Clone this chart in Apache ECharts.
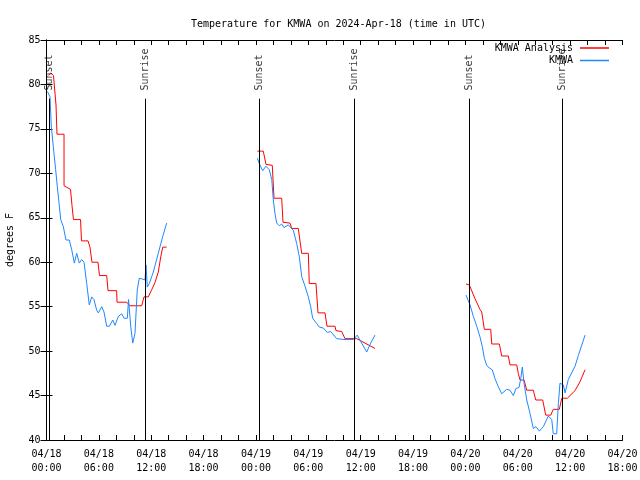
<!DOCTYPE html>
<html>
<head>
<meta charset="utf-8">
<script src="https://cdn.jsdelivr.net/npm/echarts@6/dist/echarts.min.js"></script>
<style>html,body{margin:0;padding:0;background:#fff}#c{width:640px;height:480px}</style>
</head>
<body>
<div id="c"></div>
<script>
// hours since 2024-04-18 00:00 UTC, temperature in degrees F
const analysisSeg1 = [[0.2,81.0],[0.5,81.3],[0.8,81.0],[0.97,80.8],[1.09,77.7],[1.20,74.4],[2.01,74.4],[2.01,68.6],[2.23,68.5],[2.75,68.2],[2.92,66.4],[3.09,64.8],[3.90,64.8],[4.01,62.4],[4.76,62.4],[4.98,61.7],[5.21,60.0],[5.90,60.0],[6.07,58.5],[6.90,58.5],[7.05,56.8],[8.04,56.8],[8.08,55.5],[9.19,55.5],[9.57,55.1],[10.91,55.1],[11.17,56.1],[11.67,56.1],[12.05,56.9],[12.43,57.7],[12.81,58.9],[13.09,60.6],[13.32,61.7],[13.77,61.7]];
const analysisSeg2 = [[24.16,72.5],[24.84,72.5],[25.15,71.0],[25.87,70.9],[26.07,67.2],[26.95,67.2],[27.10,64.5],[27.90,64.4],[28.10,63.8],[28.85,63.8],[29.24,61.0],[30.00,61.0],[30.11,57.6],[30.88,57.6],[31.11,54.3],[31.91,54.3],[32.14,52.8],[33.06,52.8],[33.17,52.3],[33.83,52.2],[34.20,51.4],[35.55,51.4],[37.64,50.3]];
const analysisSeg3 = [[48.07,57.55],[48.45,57.44],[49.10,55.9],[49.67,54.7],[49.87,54.4],[50.17,52.45],[50.90,52.45],[51.02,50.8],[51.89,50.8],[52.16,49.45],[52.92,49.45],[53.11,48.45],[53.88,48.45],[54.06,47.5],[54.26,46.75],[54.72,46.75],[55.03,45.6],[55.78,45.6],[56.06,44.5],[56.86,44.5],[57.20,42.8],[57.78,42.8],[58.07,43.45],[58.76,43.45],[59.04,44.7],[59.68,44.7],[60.56,45.55],[61.13,46.55],[61.71,47.9]];
const obsSeg1 = [[0.11,79.2],[0.40,78.6],[0.55,75.3],[0.78,73.0],[1.05,70.4],[1.24,68.5],[1.43,66.7],[1.63,64.8],[1.93,64.0],[2.23,62.5],[2.61,62.5],[2.89,61.4],[3.19,59.9],[3.46,61.0],[3.76,59.9],[4.03,60.3],[4.30,60.0],[4.61,57.6],[4.90,55.2],[5.18,56.1],[5.44,55.8],[5.75,54.6],[5.94,54.3],[6.33,55.0],[6.59,54.4],[6.90,52.8],[7.20,52.8],[7.59,53.5],[7.85,52.9],[8.23,53.9],[8.62,54.2],[8.88,53.7],[9.26,53.7],[9.40,55.8],[9.65,52.8],[9.88,50.9],[10.14,52.0],[10.40,56.9],[10.63,58.2],[11.02,58.1],[11.29,58.0],[11.40,59.7],[11.55,57.2],[11.78,57.6],[12.24,58.9],[12.81,61.0],[13.32,62.9],[13.77,64.4]];
const obsSeg2 = [[24.16,71.7],[24.38,71.1],[24.77,70.3],[25.15,70.8],[25.53,70.4],[25.81,69.3],[25.99,67.0],[26.18,65.5],[26.38,64.4],[26.68,64.1],[26.95,64.3],[27.21,63.9],[27.71,64.2],[27.90,64.4],[28.28,63.6],[28.67,62.1],[28.97,60.6],[29.24,58.4],[29.62,57.3],[30.00,56.1],[30.27,55.0],[30.50,53.7],[30.96,53.1],[31.26,52.7],[31.72,52.6],[32.18,52.1],[32.57,52.2],[33.25,51.4],[34.20,51.3],[35.16,51.3],[35.61,51.8],[36.00,51.1],[36.69,49.9],[37.15,50.9],[37.64,51.8]];
const obsSeg3 = [[48.07,56.3],[48.53,55.2],[48.91,53.9],[49.30,52.8],[49.67,51.6],[49.94,50.5],[50.17,49.2],[50.44,48.4],[50.74,48.1],[51.08,47.9],[51.39,46.9],[51.77,46.0],[52.16,45.2],[52.73,45.7],[53.11,45.6],[53.49,45.0],[53.80,45.8],[54.14,45.9],[54.34,46.9],[54.52,48.2],[54.72,46.4],[55.03,44.5],[55.40,43.0],[55.78,41.3],[56.09,41.5],[56.47,41.0],[56.93,41.5],[57.50,42.7],[57.89,42.3],[58.07,40.7],[58.46,40.7],[58.65,44.1],[58.84,46.4],[59.22,46.2],[59.42,45.3],[59.79,46.8],[60.56,48.3],[60.94,49.5],[61.71,51.8]];
const sunsetHours = [0.37, 24.39, 48.45];
const sunriseHours = [11.35, 35.28, 59.12];
const yTicks = [40, 45, 50, 55, 60, 65, 70, 75, 80, 85];

const FONT = 'DejaVu Sans Mono';
const RED = '#ff0000', BLUE = '#1e88ff';
const lineTop = 78.4, labelBase = 79.2;

function xLabel(v) {
  if (Math.round(v) % 6 !== 0) return '';
  const day = 18 + Math.floor(v / 24);
  const hr = v % 24;
  return '04/' + day + '\n' + (hr < 10 ? '0' : '') + hr + ':00';
}

const sunLines = [];
const sunLabels = [];
sunsetHours.forEach(h => {
  sunLines.push([{coord: [h, 40]}, {coord: [h, lineTop]}]);
  sunLabels.push({value: [h, labelBase], name: 'Sunset'});
});
sunriseHours.forEach(h => {
  sunLines.push([{coord: [h, 40]}, {coord: [h, lineTop]}]);
  sunLabels.push({value: [h, labelBase], name: 'Sunrise'});
});

function lineSeries(name, color, data) {
  return {name, type: 'line', data, showSymbol: false, symbol: 'none',
    lineStyle: {color, width: 1}, itemStyle: {color}, z: 3};
}

const chart = echarts.init(document.getElementById('c'));
chart.setOption({
  animation: false,
  backgroundColor: '#fff',
  title: {
    text: 'Temperature for KMWA on 2024-Apr-18 (time in UTC)',
    left: 186, top: 14,
    textStyle: {fontFamily: FONT, fontSize: 10, fontWeight: 'normal', color: '#000'}
  },
  legend: [
    {data: ['KMWA Analysis'], right: 31, top: 43, padding: 0, align: 'right', icon: 'rect',
     itemWidth: 29, itemHeight: 1.5, selectedMode: false,
     textStyle: {fontFamily: FONT, fontSize: 10, color: '#000', padding: [0, 2, 0, 0]}},
    {data: ['KMWA'], right: 31, top: 55.5, padding: 0, align: 'right', icon: 'rect',
     itemWidth: 29, itemHeight: 1.5, selectedMode: false,
     textStyle: {fontFamily: FONT, fontSize: 10, color: '#000', padding: [0, 2, 0, 0]}}
  ],
  grid: {left: 46.5, right: 17.5, top: 40, bottom: 40, containLabel: false, outerBoundsMode: 'none'},
  xAxis: [
    {type: 'value', min: 0, max: 66, interval: 2, position: 'bottom',
     axisLine: {show: true, lineStyle: {color: '#000', width: 1}},
     axisTick: {show: true, inside: true, length: 5, lineStyle: {color: '#000'}},
     axisLabel: {formatter: xLabel, fontFamily: FONT, fontSize: 10, color: '#000', lineHeight: 14, margin: 7},
     splitLine: {show: false}},
    {type: 'value', min: 0, max: 66, interval: 2, position: 'top',
     axisLine: {show: true, lineStyle: {color: '#000', width: 1}},
     axisTick: {show: true, inside: true, length: 5, lineStyle: {color: '#000'}},
     axisLabel: {show: false}, splitLine: {show: false}}
  ],
  yAxis: [
    {type: 'value', min: 40, max: 85, interval: 5, position: 'left',
     name: 'degrees F', nameLocation: 'middle', nameGap: 31, nameRotate: 90,
     nameTextStyle: {fontFamily: FONT, fontSize: 10, color: '#000'},
     axisLine: {show: true, lineStyle: {color: '#000', width: 1}},
     axisTick: {show: true, inside: true, length: 6, lineStyle: {color: '#000'}},
     axisLabel: {fontFamily: FONT, fontSize: 10, color: '#000', margin: 6,
       formatter: v => yTicks.includes(v) ? String(v) : ''},
     splitLine: {show: false}},
    {type: 'value', min: 40, max: 85, interval: 5, position: 'right',
     axisLine: {show: true, lineStyle: {color: '#000', width: 1}},
     axisTick: {show: true, inside: true, length: 6, lineStyle: {color: '#000'}},
     axisLabel: {show: false}, splitLine: {show: false}}
  ],
  series: [
    {type: 'line', data: [], silent: true,
     markLine: {symbol: 'none', silent: true, animation: false,
       lineStyle: {color: '#000', width: 1, type: 'solid'}, label: {show: false},
       data: sunLines}},
    {type: 'scatter', data: sunLabels, symbolSize: 0, silent: true, z: 4,
     label: {show: true, position: 'inside', formatter: p => p.name, rotate: 90, offset: [1, 0],
       align: 'left', verticalAlign: 'middle', fontFamily: FONT, fontSize: 10, color: '#000'}},
    lineSeries('KMWA Analysis', RED, analysisSeg1),
    lineSeries('KMWA Analysis', RED, analysisSeg2),
    lineSeries('KMWA Analysis', RED, analysisSeg3),
    lineSeries('KMWA', BLUE, obsSeg1),
    lineSeries('KMWA', BLUE, obsSeg2),
    lineSeries('KMWA', BLUE, obsSeg3)
  ]
});
</script>
</body>
</html>
